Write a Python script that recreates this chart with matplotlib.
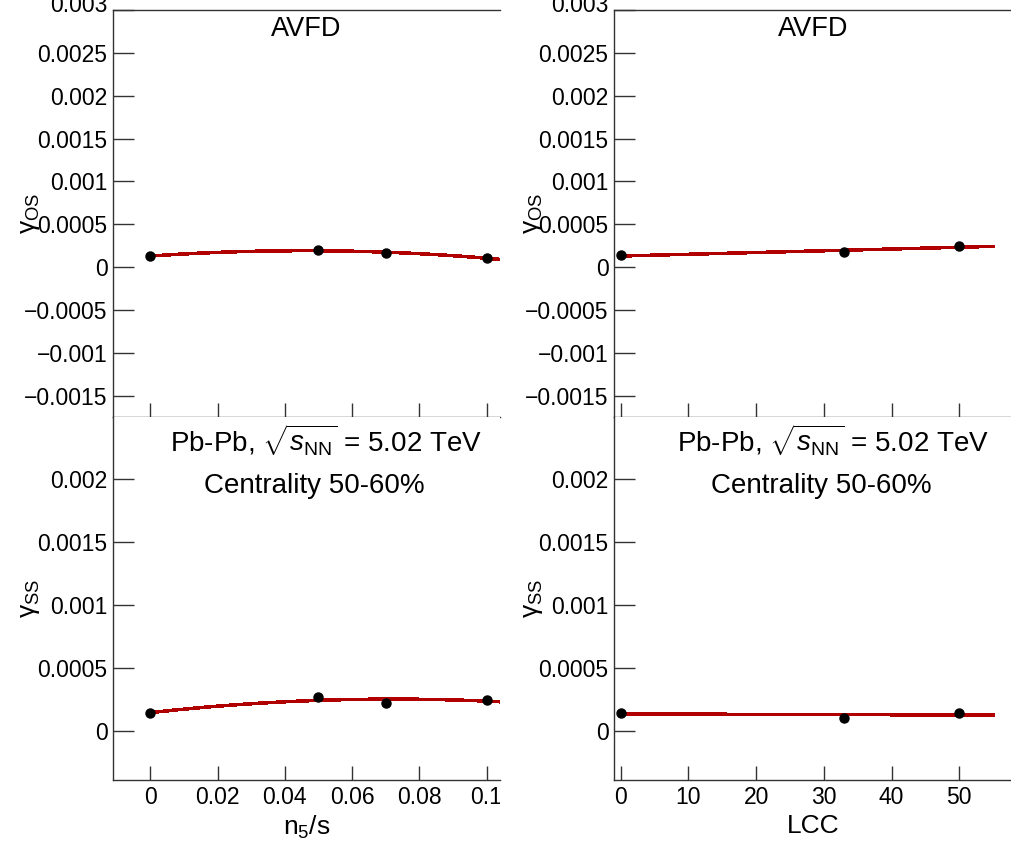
import numpy as np
import matplotlib
matplotlib.use('Agg')
import matplotlib.pyplot as plt
from matplotlib.ticker import FixedLocator, FuncFormatter
from matplotlib.transforms import Bbox

plt.rcParams['font.family'] = ['Liberation Sans', 'DejaVu Sans']
plt.rcParams['mathtext.fontset'] = 'custom'
plt.rcParams['mathtext.rm'] = 'Liberation Sans'
plt.rcParams['mathtext.it'] = 'Liberation Sans:italic'
plt.rcParams['mathtext.bf'] = 'Liberation Sans:bold'

# data
n5s = [0.0, 0.05, 0.07, 0.1]
gos_n5s = [0.000128, 0.000195, 0.000168, 0.000105]
gss_n5s = [0.000141, 0.000266, 0.000223, 0.000244]

lcc = [0, 33, 50]
gos_lcc = [0.000136, 0.000175, 0.000245]
gss_lcc = [0.000143, 0.000103, 0.000143]

n5s_ticks = [0, 0.02, 0.04, 0.06, 0.08, 0.1]
n5s_ticklabels = ['0', '0.02', '0.04', '0.06', '0.08', '0.1']
lcc_ticks = [0, 10, 20, 30, 40, 50]
top_yticks = [-0.0015, -0.001, -0.0005, 0, 0.0005, 0.001, 0.0015, 0.002, 0.0025, 0.003]
bot_yticks = [0, 0.0005, 0.001, 0.0015, 0.002]

W, H = 1012, 851
fig = plt.figure(figsize=(W / 100, H / 100), dpi=100)

def px_axes(x0, y0, x1, y1):
    # pixel box (top-left origin) -> figure axes
    return fig.add_axes([x0 / W, 1 - y1 / H, (x1 - x0) / W, (y1 - y0) / H])

ax_tl = px_axes(113, 10, 500, 417)
ax_bl = px_axes(113, 417, 500, 780)
ax_tr = px_axes(614, 10, 1012, 417)
ax_br = px_axes(614, 417, 1012, 780)

red = '#b00000'
spine_col = '#333333'
tick_fs = 16.5

def yfmt(v, pos):
    if abs(v) < 1e-12:
        return '0'
    if abs(v - 0.003) < 1e-9:
        return ''   # drawn by hand below, it sits a bit higher
    return ('%g' % round(v, 6)).replace('-', '\u2212')

def style(ax, top):
    ax.spines['right'].set_visible(False)
    for s in ['left', 'top', 'bottom']:
        ax.spines[s].set_color(spine_col)
        ax.spines[s].set_linewidth(1.0)
    if not top:
        ax.spines['top'].set_visible(False)
    ax.tick_params(axis='y', direction='in', length=15, width=1, color=spine_col,
                   labelsize=tick_fs, pad=4, right=False)
    ax.tick_params(axis='x', direction='in', length=10, width=1, color=spine_col,
                   labelsize=tick_fs, pad=4, top=False, labelbottom=not top)
    ax.yaxis.set_major_formatter(FuncFormatter(yfmt))

# fits drawn from the points with numpy
def draw(ax, x, y, deg, xmax):
    c = np.polyfit(x, y, deg)
    xs = np.linspace(0, xmax, 200)
    ax.plot(xs, np.polyval(c, xs), color=red, lw=1.8, antialiased=False, zorder=2)
    ax.plot(x, y, 'o', color='black', ms=6.5, zorder=3)

draw(ax_tl, n5s, gos_n5s, 2, 0.12)
draw(ax_bl, n5s, gss_n5s, 2, 0.12)
draw(ax_tr, lcc, gos_lcc, 1, 55)
draw(ax_br, lcc, gss_lcc, 1, 55)

for ax, top in [(ax_tl, True), (ax_bl, False), (ax_tr, True), (ax_br, False)]:
    style(ax, top)

for ax in [ax_tl, ax_bl]:
    ax.set_xlim(-0.0111, 0.104)
    ax.xaxis.set_major_locator(FixedLocator(n5s_ticks))
    ax.set_xticklabels(n5s_ticklabels)
for ax in [ax_tr, ax_br]:
    ax.set_xlim(-1.0, 57.8)
    ax.xaxis.set_major_locator(FixedLocator(lcc_ticks))

for ax in [ax_tl, ax_tr]:
    ax.set_ylim(-0.00175, 0.003)
    ax.yaxis.set_major_locator(FixedLocator(top_yticks))
    ax.text(0.5, 0.985, 'AVFD', transform=ax.transAxes, ha='center', va='top', fontsize=19.5)
    ax.set_ylabel('\u03b3$_{\\rm OS}$', fontsize=19)
for ax in [ax_bl, ax_br]:
    ax.set_ylim(-0.00039, 0.00249)
    ax.yaxis.set_major_locator(FixedLocator(bot_yticks))
    ax.text(0.55, 0.985, r'Pb-Pb, $\sqrt{s_{\rm NN}}$ = 5.02 TeV', transform=ax.transAxes,
            ha='center', va='top', fontsize=20)
    ax.text(0.52, 0.845, 'Centrality 50-60%', transform=ax.transAxes,
            ha='center', va='top', fontsize=20)
    ax.set_ylabel('\u03b3$_{\\rm SS}$', fontsize=19)

ax_tl.yaxis.set_label_coords(-0.1835, 0.5)
ax_bl.yaxis.set_label_coords(-0.1835, 0.5)
ax_tr.yaxis.set_label_coords(-0.173, 0.5)
ax_br.yaxis.set_label_coords(-0.173, 0.5)

# top "0.003" labels, partly cut by the top edge like in the original
for xr in [108, 609]:
    fig.text(xr / W, 1 - 5 / H, '0.003', ha='right', va='center', fontsize=tick_fs)

ax_bl.set_xlabel('n$_{5}$/s', fontsize=19, labelpad=4)
ax_br.set_xlabel('LCC', fontsize=19, labelpad=4)

# the left panel is cut at x=500 px
clip = Bbox.from_extents(0, 0, 500, H)
for lab in ax_bl.get_xticklabels():
    lab.set_clip_box(clip)
    lab.set_clip_on(True)

fig.savefig('out.png', dpi=100)
